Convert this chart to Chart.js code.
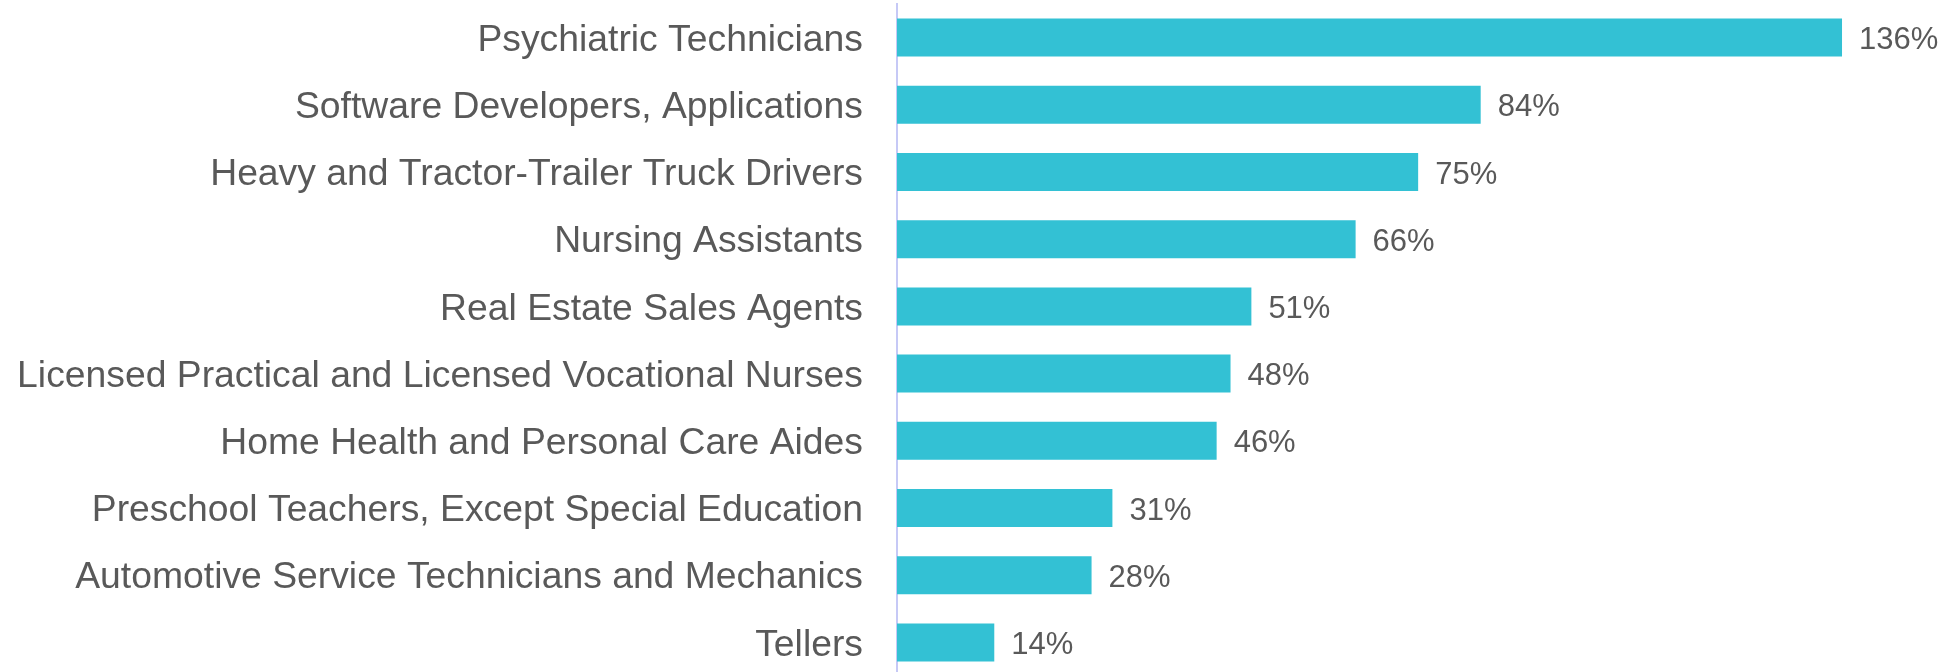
<!DOCTYPE html>
<html>
<head>
<meta charset="utf-8">
<script src="https://cdn.jsdelivr.net/npm/chart.js@4"></script>
<style>
  html, body { margin: 0; padding: 0; background: #fff; overflow: hidden; }
  #wrap { position: absolute; left: 0; top: 0; width: 1952px; height: 680px; }
</style>
</head>
<body>
<div id="wrap"><canvas id="growthChart"></canvas></div>
<script>
const occupations = [
  "Psychiatric Technicians",
  "Software Developers, Applications",
  "Heavy and Tractor-Trailer Truck Drivers",
  "Nursing Assistants",
  "Real Estate Sales Agents",
  "Licensed Practical and Licensed Vocational Nurses",
  "Home Health and Personal Care Aides",
  "Preschool Teachers, Except Special Education",
  "Automotive Service Technicians and Mechanics",
  "Tellers"
];
const growthPct = [136, 84, 75, 66, 51, 48, 46, 31, 28, 14];

const textColor = "#595959";
const fontFamily = "'Liberation Sans', Arial, sans-serif";

// draws "NN%" just right of each bar
const valueLabels = {
  id: "valueLabels",
  afterDatasetsDraw(chart) {
    const c = chart.ctx;
    const meta = chart.getDatasetMeta(0);
    c.save();
    c.font = "31px " + fontFamily;
    c.fillStyle = textColor;
    c.textAlign = "left";
    c.textBaseline = "middle";
    meta.data.forEach((bar, i) => {
      c.fillText(growthPct[i] + "%", bar.x + 17, bar.y + 3);
    });
    c.restore();
  }
};

const ctx = document.getElementById("growthChart").getContext("2d");

new Chart(ctx, {
  type: "bar",
  data: {
    labels: occupations,
    datasets: [{
      data: growthPct,
      backgroundColor: "#33c1d4",
      barPercentage: 0.565,
      categoryPercentage: 1
    }]
  },
  options: {
    indexAxis: "y",
    responsive: true,
    maintainAspectRatio: false,
    animation: false,
    layout: { padding: { top: 4, bottom: 4, right: 12.7, left: 0 } },
    plugins: {
      legend: { display: false },
      tooltip: { enabled: false }
    },
    scales: {
      x: {
        display: false,
        min: 0,
        max: 150
      },
      y: {
        grid: { display: false, drawTicks: false },
        border: { display: true, color: "#c6c9f6", width: 2 },
        ticks: {
          color: textColor,
          padding: 34,
          labelOffset: 3,
          font: { size: 37.3, family: fontFamily }
        },
        afterFit(scale) {
          scale.width = 897;
          scale.paddingTop = 0;
          scale.paddingBottom = 0;
        }
      }
    }
  },
  plugins: [valueLabels]
});
</script>
</body>
</html>
